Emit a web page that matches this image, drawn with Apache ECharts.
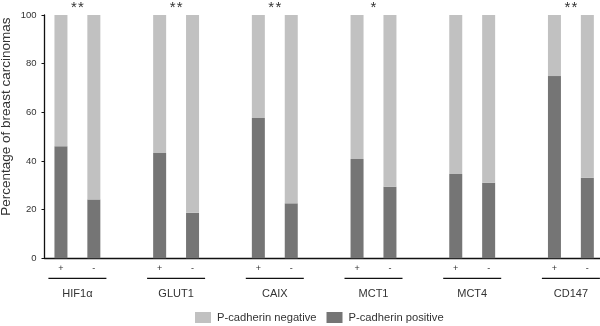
<!DOCTYPE html>
<html>
<head>
<meta charset="utf-8">
<script src="https://cdn.jsdelivr.net/npm/echarts@6/dist/echarts.min.js"></script>
<style>
  html, body { margin: 0; padding: 0; background: #fff; }
  #chart { width: 600px; height: 326px; }
</style>
</head>
<body>
<div id="chart"></div>
<script>
// markers, one pair (+ / -) per marker
var markers = ['HIF1α', 'GLUT1', 'CAIX', 'MCT1', 'MCT4', 'CD147'];
var signs = ['+', '-'];
// % P-cadherin positive for the marker + and marker - groups
var positivePlus = [46.1, 43.3, 57.7, 40.8, 34.6, 74.9];
var positiveMinus = [24.2, 18.7, 22.6, 29.4, 31.1, 33.1];
var stars = ['**', '**', '**', '*', '', '**'];
var yTicks = [0, 20, 40, 60, 80, 100];

var font = 'Liberation Sans, Arial, sans-serif';
var txt = '#333';

// slots: +, -, gap for each marker (last gap dropped)
var slots = [];
var posData = [];
var negData = [];
markers.forEach(function (m, i) {
    slots.push(signs[0], signs[1]);
    posData.push(positivePlus[i], positiveMinus[i]);
    negData.push(100 - positivePlus[i], 100 - positiveMinus[i]);
    if (i < markers.length - 1) {
        slots.push('');
        posData.push('-');
        negData.push('-');
    }
});

// boundary points (boundaryGap false) - marker names sit between + and -
var names = [];
var starLabels = [];
for (var k = 0; k <= slots.length; k++) {
    names.push('');
    starLabels.push('');
}
markers.forEach(function (m, i) {
    names[i * 3 + 1] = m;
    starLabels[i * 3 + 1] = stars[i];
});

var myChart = echarts.init(document.getElementById('chart'));
myChart.setOption({
    animation: false,
    textStyle: {fontFamily: font},
    grid: {
        left: 44.5,
        right: -3.8,
        top: 15,
        bottom: 67.7,
        outerBoundsMode: 'none'
    },
    legend: {
        left: 195,
        top: 312,
        padding: 0,
        itemWidth: 16,
        itemHeight: 11,
        itemGap: 10,
        icon: 'rect',
        textStyle: {fontSize: 11.2, color: txt, fontFamily: font, padding: [0, 0, 0, 1]},
        data: ['P-cadherin negative', 'P-cadherin positive']
    },
    xAxis: [
        {
            type: 'category',
            data: slots,
            axisLine: {lineStyle: {color: '#111', width: 1.3}},
            axisTick: {show: false},
            axisLabel: {fontSize: 9, color: txt, margin: 6, interval: 0}
        },
        {
            type: 'category',
            data: names,
            boundaryGap: false,
            position: 'bottom',
            axisLine: {show: false},
            axisTick: {show: false},
            axisLabel: {
                interval: 0,
                margin: 13,
                formatter: function (v) {
                    return v ? '{l|}\n{n|' + v + '}' : '';
                },
                rich: {
                    l: {width: 58, height: 1.3, backgroundColor: '#111', lineHeight: 14},
                    n: {fontSize: 11, color: txt, fontFamily: font, lineHeight: 17}
                }
            }
        },
        {
            type: 'category',
            data: starLabels,
            boundaryGap: false,
            position: 'top',
            axisLine: {show: false},
            axisTick: {show: false},
            axisLabel: {
                interval: 0,
                margin: 0,
                fontSize: 15,
                color: txt,
                formatter: function (v) {
                    return v.split('').join('\u200a');
                }
            }
        }
    ],
    yAxis: {
        type: 'value',
        min: yTicks[0],
        max: yTicks[yTicks.length - 1],
        interval: 20,
        name: 'Percentage of breast carcinomas',
        nameLocation: 'middle',
        nameRotate: 90,
        nameGap: 31.5,
        nameMoveOverlap: false,
        nameTextStyle: {fontSize: 13.5, color: txt, fontFamily: font, padding: [0, 0, 0, 40]},
        axisLine: {show: true, lineStyle: {color: '#111', width: 1.3}},
        axisTick: {show: true, length: 3, lineStyle: {color: '#111'}},
        axisLabel: {fontSize: 9.5, color: txt, margin: 8},
        splitLine: {show: false}
    },
    series: [
        {
            name: 'P-cadherin positive',
            type: 'bar',
            stack: 'pc',
            barWidth: 13,
            itemStyle: {color: '#757575'},
            data: posData
        },
        {
            name: 'P-cadherin negative',
            type: 'bar',
            stack: 'pc',
            barWidth: 13,
            itemStyle: {color: '#c1c1c1'},
            data: negData
        }
    ]
});
</script>
</body>
</html>
